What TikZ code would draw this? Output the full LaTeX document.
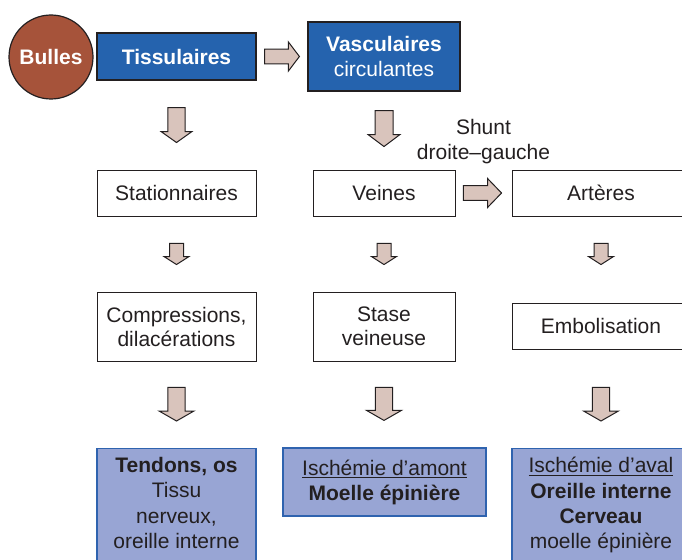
\documentclass[tikz,border=0pt]{standalone}
\usepackage{fontspec}
\setmainfont{Liberation Sans}
\usetikzlibrary{positioning,calc}

\definecolor{bleufonce}{HTML}{2563AE}
\definecolor{bleuclair}{HTML}{98A5D4}
\definecolor{bleubord}{HTML}{2F63AF}
\definecolor{brique}{HTML}{A6533A}
\definecolor{rose}{HTML}{D9C4BC}
\definecolor{encre}{HTML}{231F20}

\newcommand{\taille}{\fontsize{15.75pt}{18.75pt}\selectfont}

\tikzset{
  haut/.style={draw=encre, fill=bleufonce, text=white, line width=0.9pt, inner sep=0pt, align=center},
  boite/.style={draw=encre, line width=0.7pt, inner sep=0pt, align=center, text=encre},
  bas/.style={draw=bleubord, fill=bleuclair, line width=0.9pt, inner sep=0pt, align=center, text=encre},
  texte/.style={inner sep=0pt, align=center, text=encre},
  fleche/.style={draw=encre, fill=rose, line width=0.75pt, line join=miter},
  flechebas/.style n args={3}{fleche, to path={let \p1=(\tikztostart), \p2=(\tikztotarget) in
    (\x1-#1,\y1) -- (\x1+#1,\y1) -- (\x1+#1,\y2+#3) -- (\x1+#2,\y2+#3) -- (\x1,\y2)
    -- (\x1-#2,\y2+#3) -- (\x1-#1,\y2+#3) -- cycle}},
  flechedroite/.style n args={3}{fleche, to path={let \p1=(\tikztostart), \p2=(\tikztotarget) in
    (\x1,\y1+#1) -- (\x2-#3,\y1+#1) -- (\x2-#3,\y1+#2) -- (\x2,\y1)
    -- (\x2-#3,\y1-#2) -- (\x2-#3,\y1-#1) -- (\x1,\y1-#1) -- cycle}}
}

\begin{document}
\begin{tikzpicture}[x=0.75pt, y=-0.75pt, font=\taille]
  \useasboundingbox (0,0) rectangle (682,560);

  \node[circle, draw=encre, fill=brique, line width=0.9pt, minimum size=63pt, inner sep=0pt,
        text=white, font=\taille\bfseries] (bulles) at (51,57) {Bulles};
  \node[haut, minimum width=119.25pt, minimum height=35.25pt, font=\taille\bfseries] (tiss) at (176.5,56.5) {Tissulaires};
  \node[haut, minimum width=114pt, minimum height=51.75pt] (vasc) at (384,56.5) {\textbf{Vasculaires}\\circulantes};

  \node[boite, minimum width=119.25pt, minimum height=34.5pt] (stat) at (176.5,193) {Stationnaires};
  \node[boite, minimum width=106.5pt, minimum height=34.5pt] (veines) at (384,193) {Veines};
  \node[boite, minimum width=133.5pt, minimum height=34.5pt] (art) at (601,193) {Artères};
  \node[texte, above=21.5pt] (shunt) at ($(veines.east)!.5!(art.west)$) {Shunt\\droite–gauche};

  \node[boite, minimum width=119.25pt, minimum height=51.75pt, font=\fontsize{15.75pt}{18pt}\selectfont] (comp) at (176.5,326.5) {Compressions,\\dilacérations};
  \node[boite, minimum width=106.5pt, minimum height=51.75pt, font=\fontsize{15.75pt}{18pt}\selectfont] (stase) at (384,326.5) {Stase\\veineuse};
  \node[boite, minimum width=133.5pt, minimum height=34.5pt] (embol) at (601,326) {Embolisation};

  \node[bas, minimum width=119.25pt, minimum height=99pt, anchor=north] (tendons) at (176.5,448) {};
  \node[texte, anchor=north, font=\fontsize{15.75pt}{19pt}\selectfont] (tendonstxt) at ($(tendons.north)+(0,9)$)
    {\textbf{Tendons, os}\\Tissu\\nerveux,\\oreille interne};
  \node[bas, minimum width=152.25pt, minimum height=51pt] (amont) at (384.5,482)
    {\underline{Ischémie d’amont}\\\textbf{Moelle épinière}};
  \node[bas, minimum width=133.5pt, minimum height=99pt, anchor=north] (aval) at (601,448) {};
  \node[texte, anchor=north, font=\fontsize{15.75pt}{19pt}\selectfont] (avaltxt) at ($(aval.north)+(0,9)$)
    {\underline{Ischémie d’aval}\\\textbf{Oreille interne}\\\textbf{Cerveau}\\moelle épinière};

  \draw[flechedroite={5.6pt}{10.9pt}{8.25pt}] ([xshift=6pt]tiss.east) to ([xshift=-6pt]vasc.west |- tiss.east);
  \draw[flechedroite={5.6pt}{10.9pt}{10.5pt}] ([xshift=6pt]veines.east) to ([xshift=-7.5pt]art.west);

  \draw[flechebas={6.4pt}{11.6pt}{8.25pt}] ([yshift=-20.25pt]tiss.south) to ([yshift=20.25pt]stat.north);
  \draw[flechebas={6.75pt}{12pt}{9pt}] ([yshift=-14.25pt]vasc.south) to ([yshift=17.25pt]veines.north);

  \draw[flechebas={5.25pt}{9.4pt}{6pt}] ([yshift=-20.25pt]stat.south) to ([yshift=20.25pt]comp.north);
  \draw[flechebas={5.25pt}{9.4pt}{6pt}] ([yshift=-20.25pt]veines.south) to ([yshift=20.25pt]stase.north);
  \draw[flechebas={5.25pt}{9.4pt}{6pt}] ([yshift=-20.25pt]art.south) to ([yshift=28.5pt]embol.north);

  \draw[flechebas={6.4pt}{13.1pt}{7.5pt}] ([yshift=-19.5pt]comp.south) to ([yshift=20.25pt]tendons.north);
  \draw[flechebas={6.4pt}{13.1pt}{7.5pt}] ([yshift=-19.5pt]stase.south) to ([yshift=20.25pt]amont.north);
  \draw[flechebas={6.4pt}{13.1pt}{7.5pt}] ([yshift=-28.5pt]embol.south) to ([yshift=20.25pt]aval.north);
\end{tikzpicture}
\end{document}
